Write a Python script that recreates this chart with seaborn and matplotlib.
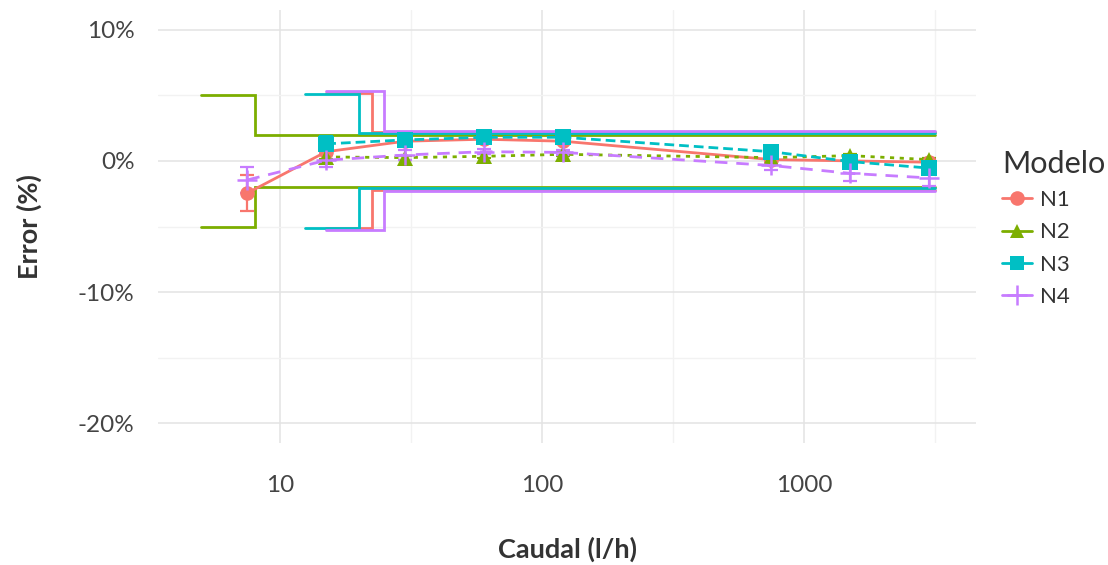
import numpy as np
import pandas as pd
import matplotlib
matplotlib.use("Agg")
import matplotlib.pyplot as plt
from matplotlib.lines import Line2D
from matplotlib.ticker import FixedLocator, NullFormatter
import seaborn as sns

# ---------------- data ----------------
models = ["N1", "N2", "N3", "N4"]
colors = ["#F8766D", "#7CAE00", "#00BFC4", "#C77CFF"]

n1_x = [7.5, 15, 30, 60, 120, 750, 1500, 3000]
n1_y = [-2.45, 0.7, 1.5, 1.65, 1.5, 0.1, 0.0, -0.1]
n1_e = [1.4, 0.15, 0.2, 0.2, 0.2, 0.2, 0.15, 0.15]

n2_x = [15, 30, 60, 120, 750, 1500, 3000]
n2_y = [0.3, 0.25, 0.35, 0.5, 0.25, 0.4, 0.1]
n2_e = [0.15, 0.15, 0.15, 0.15, 0.15, 0.15, 0.15]

n3_x = [15, 30, 60, 120, 750, 1500, 3000]
n3_y = [1.3, 1.6, 1.8, 1.8, 0.7, -0.05, -0.55]
n3_e = [0.6, 0.2, 0.2, 0.2, 0.2, 0.2, 0.2]

n4_x = [7.5, 15, 30, 60, 120, 750, 1500, 3000]
n4_y = [-1.45, 0.05, 0.45, 0.7, 0.65, -0.35, -0.95, -1.3]
n4_e = [1.0, 0.55, 0.35, 0.2, 0.2, 0.35, 0.6, 0.6]

# error limit envelopes: start, step, end flow; outer and inner limits (%)
env_start = [15, 5, 12.5, 15]
env_step = [22.5, 8, 20, 25]
env_end = [3150, 3150, 3150, 3150]
env_outer = [5.15, 5.0, 5.1, 5.3]
env_inner = [2.2, 2.0, 2.1, 2.3]

xs = [n1_x, n2_x, n3_x, n4_x]
ys = [n1_y, n2_y, n3_y, n4_y]
es = [n1_e, n2_e, n3_e, n4_e]

rows = []
for m, xx, yy, ee in zip(models, xs, ys, es):
    for a, b, c in zip(xx, yy, ee):
        rows.append({"Caudal": a, "Error": b, "err": c, "Modelo": m})
df = pd.DataFrame(rows)

# ---------------- style ----------------
sns.set_theme(style="white")
plt.rcParams["font.family"] = ["Lato", "DejaVu Sans"]

fig = plt.figure(figsize=(11.08, 5.65), dpi=100)
ax = fig.add_axes([158 / 1108, 1 - 443 / 565, (976 - 158) / 1108, (443 - 10) / 565])
ax.set_facecolor("white")
for s in ax.spines.values():
    s.set_visible(False)

markers = {"N1": "o", "N2": "^", "N3": "s", "N4": "+"}
dashes = {"N2": (1.5, 2.0), "N3": (3.5, 1.8), "N4": (4.5, 3.2)}
msizes = {"N1": 10.5, "N2": 11.5, "N3": 11, "N4": 14}
LW = 2.0

# envelopes
for m, c, s0, s1, s2, o, i in zip(models, colors, env_start, env_step, env_end, env_outer, env_inner):
    ax.plot([s0, s1, s1, s2], [o, o, i, i], color=c, lw=LW, zorder=2, solid_joinstyle="miter")
    ax.plot([s0, s1, s1, s2], [-o, -o, -i, -i], color=c, lw=LW, zorder=2, solid_joinstyle="miter")

# error bars
for m, c, xx, yy, ee in zip(models, colors, xs, ys, es):
    ax.errorbar(xx, yy, yerr=ee, fmt="none", ecolor=c, elinewidth=1.6, capsize=5,
                capthick=1.6, zorder=3)

# data lines + markers
for m, c in zip(models, colors):
    sub = df[df["Modelo"] == m]
    kw = {}
    if m in dashes:
        kw["dashes"] = dashes[m]
    sns.lineplot(data=sub, x="Caudal", y="Error", color=c, marker=markers[m],
                 markersize=msizes[m], markeredgewidth=(1.8 if m == "N4" else 0),
                 markeredgecolor=c, linewidth=LW, ax=ax, legend=False,
                 estimator=None, sort=True, zorder=4, **kw)

ax.set_xscale("log")
ax.set_xlim(3.42, 4530)
ax.set_ylim(-21.5, 11.5)

ax.xaxis.set_major_locator(FixedLocator([10, 100, 1000]))
ax.xaxis.set_minor_locator(FixedLocator([10 ** 0.5, 10 ** 1.5, 10 ** 2.5, 10 ** 3.5]))
ax.xaxis.set_minor_formatter(NullFormatter())
ax.set_xticklabels(["10", "100", "1000"])
ax.yaxis.set_major_locator(FixedLocator([-20, -10, 0, 10]))
ax.yaxis.set_minor_locator(FixedLocator([-15, -5, 5]))
ax.set_yticklabels(["-20%", "-10%", "0%", "10%"])

ax.grid(True, which="major", color="#E3E3E3", lw=1.1, zorder=0)
ax.grid(True, which="minor", color="#F2F2F2", lw=1.0, zorder=0)
ax.set_axisbelow(True)
ax.tick_params(axis="both", which="both", length=0, labelsize=17.5, labelcolor="#444444")
ax.tick_params(axis="x", pad=23)
ax.tick_params(axis="y", pad=17)

ax.set_xlabel("Caudal (l/h)", fontsize=19.5, fontweight="bold", color="#333333", labelpad=29)
ax.set_ylabel("Error (%)", fontsize=19.5, fontweight="bold", color="#333333", labelpad=26)

handles = [Line2D([0], [0], color=c, lw=LW, marker=markers[m],
                  markersize=(14 if m == "N4" else 10.5),
                  markeredgewidth=(1.8 if m == "N4" else 0))
           for m, c in zip(models, colors)]
leg = fig.legend(handles, models, title="Modelo", loc="upper left",
                 bbox_to_anchor=(993 / 1108, 1 - 141 / 565), frameon=False,
                 fontsize=16, title_fontsize=22, handlelength=1.35,
                 handletextpad=0.35, labelspacing=0.55, borderaxespad=0)
leg._legend_box.align = "left"
for t in leg.get_texts():
    t.set_color("#333333")
leg.get_title().set_color("#333333")

fig.savefig("out.png", dpi=100)
